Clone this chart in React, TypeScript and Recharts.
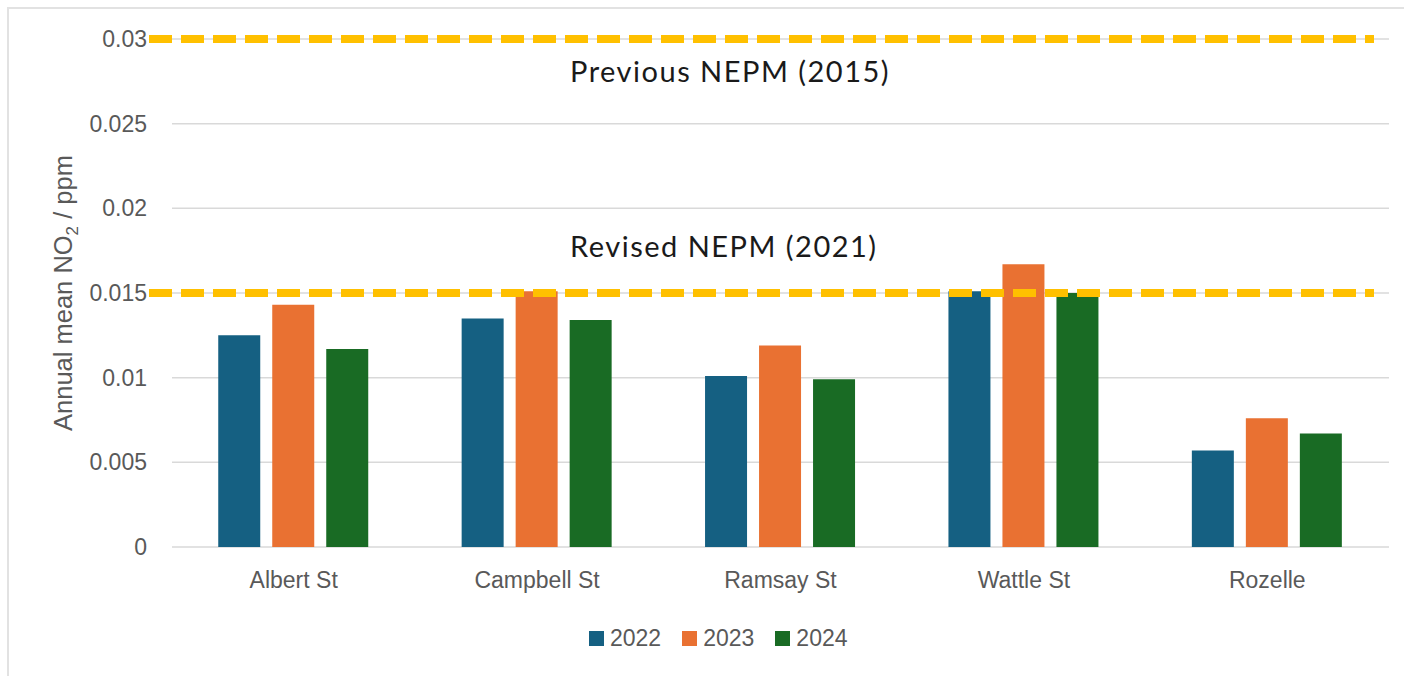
import {
  BarChart,
  Bar,
  XAxis,
  YAxis,
  CartesianGrid,
  ReferenceLine,
} from "recharts";

const sites = ["Albert St", "Campbell St", "Ramsay St", "Wattle St", "Rozelle"];
const years = ["2022", "2023", "2024"];
const no2_2022 = [0.0125, 0.0135, 0.0101, 0.0151, 0.0057];
const no2_2023 = [0.0143, 0.0151, 0.0119, 0.0167, 0.0076];
const no2_2024 = [0.0117, 0.0134, 0.0099, 0.015, 0.0067];
const yTicks = [0, 0.005, 0.01, 0.015, 0.02, 0.025, 0.03];
const yTickLabels = ["0", "0.005", "0.01", "0.015", "0.02", "0.025", "0.03"];
const standards = [
  { value: 0.03, name: "Previous NEPM (2015)", above: false },
  { value: 0.015, name: "Revised NEPM (2021)", above: true },
];

const colors = ["#156082", "#E97132", "#196B24"];
const tickFont = "'Liberation Sans', Arial, sans-serif";

const data = sites.map((site, i) => ({
  site,
  "2022": no2_2022[i],
  "2023": no2_2023[i],
  "2024": no2_2024[i],
}));

function YLabel(props: any) {
  const vb = props.viewBox || {};
  const cy = vb.y + vb.height / 2;
  const x = 72;
  return (
    <text
      x={x}
      y={cy}
      transform={`rotate(-90 ${x} ${cy})`}
      textAnchor="middle"
      fill="#595959"
      fontSize={25.5}
      fontFamily={tickFont}
    >
      <tspan>Annual mean NO</tspan>
      <tspan fontSize={17} dy={6}>
        2
      </tspan>
      <tspan dy={-6}> / ppm</tspan>
    </text>
  );
}

function standardShape(name: string, above: boolean) {
  return (props: any) => {
    const { x1, y1, x2 } = props;
    return (
      <g>
        <line
          x1={x1 - 23}
          y1={y1}
          x2={x2 - 15}
          y2={y1}
          stroke="#FFC000"
          strokeWidth={8}
          strokeDasharray="23 9"
        />
        <text
          x={x1 + 398}
          y={above ? y1 - 36 : y1 + 43}
          fontSize={29}
          letterSpacing={1.5}
          fontFamily="Lato, 'Open Sans', sans-serif"
          fill="#1a1a1a"
        >
          {name}
        </text>
      </g>
    );
  };
}

export default function App() {
  return (
    <div
      style={{
        position: "fixed",
        left: 0,
        top: 0,
        width: 1404,
        height: 676,
        overflow: "hidden",
        background: "#fff",
      }}
    >
      <div
        style={{
          position: "absolute",
          left: 7,
          top: 7,
          width: 1420,
          height: 700,
          border: "2px solid #e2e2e2",
        }}
      />
      <div style={{ position: "absolute", left: 0, top: 0 }}>
        <BarChart
          width={1404}
          height={676}
          data={data}
          margin={{ top: 39, right: 15, left: 0, bottom: 99 }}
          barCategoryGap="19%"
          barGap={12}
        >
          <CartesianGrid vertical={false} stroke="#d9d9d9" strokeWidth={1.5} />
          <XAxis
            dataKey="site"
            height={30}
            axisLine={false}
            tickLine={false}
            tickSize={0}
            tickMargin={25}
            tick={{ fill: "#595959", fontSize: 23, fontFamily: tickFont }}
          />
          <YAxis
            width={172}
            domain={[0, 0.03]}
            ticks={yTicks}
            tickFormatter={(v: number) => yTickLabels[yTicks.indexOf(v)] ?? String(v)}
            axisLine={false}
            tickLine={false}
            tickSize={0}
            tickMargin={25}
            tick={{ fill: "#595959", fontSize: 23, fontFamily: tickFont }}
            label={<YLabel />}
          />
          {years.map((y, i) => (
            <Bar key={y} dataKey={y} fill={colors[i]} isAnimationActive={false} />
          ))}
          {standards.map((s) => (
            <ReferenceLine
              key={s.name}
              y={s.value}
              shape={standardShape(s.name, s.above)}
            />
          ))}
        </BarChart>
      </div>
      <div
        style={{
          position: "absolute",
          left: 589,
          top: 625,
          display: "flex",
          alignItems: "center",
          fontFamily: tickFont,
          fontSize: 23,
          color: "#595959",
        }}
      >
        {years.map((y, i) => (
          <div key={y} style={{ display: "flex", alignItems: "center", marginRight: 21 }}>
            <span
              style={{
                display: "inline-block",
                width: 15,
                height: 15,
                background: colors[i],
                marginRight: 6,
              }}
            />
            <span>{y}</span>
          </div>
        ))}
      </div>
    </div>
  );
}
